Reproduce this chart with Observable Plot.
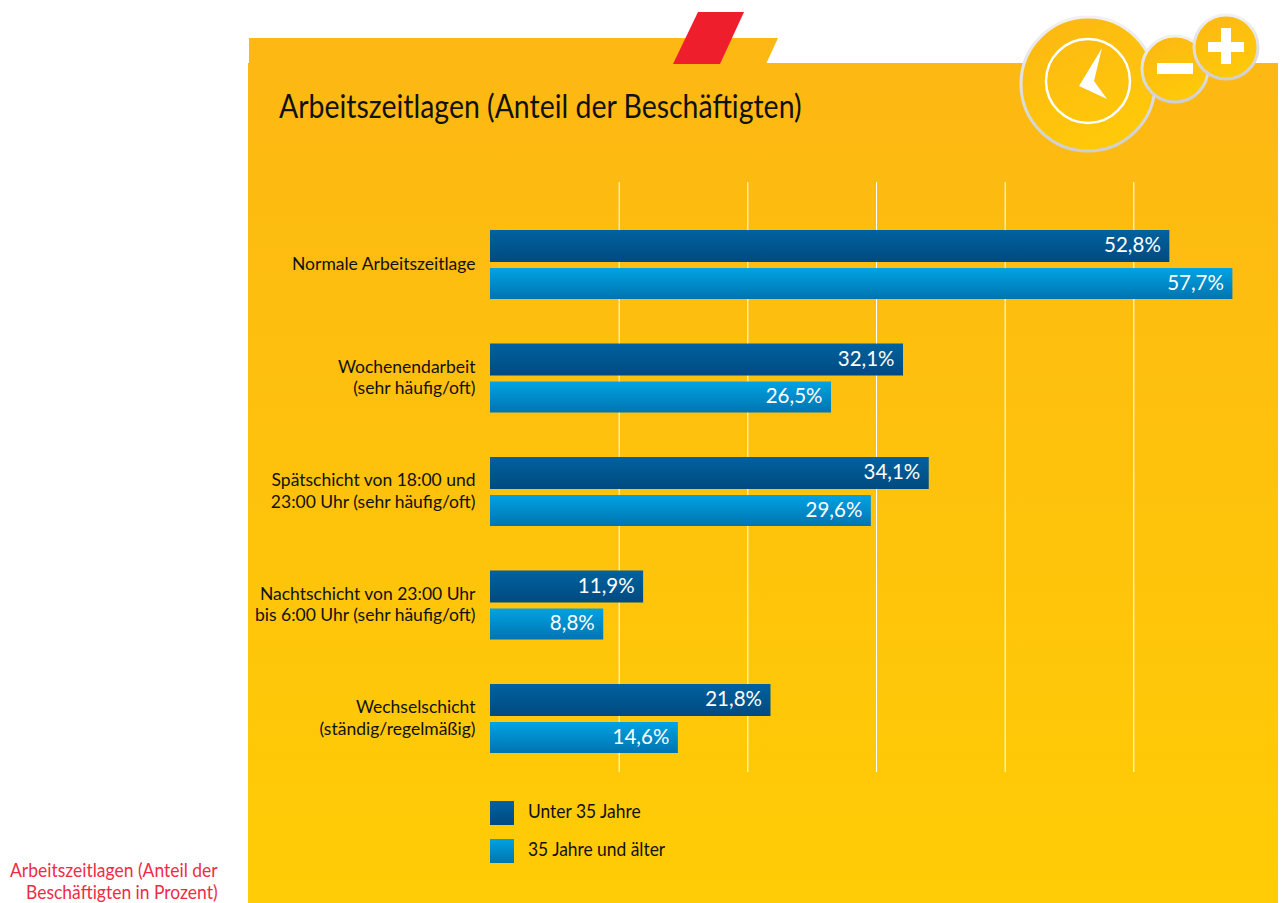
<!DOCTYPE html>
<html lang="de">
<head>
<meta charset="utf-8">
<title>Arbeitszeitlagen</title>
<script src="https://cdn.jsdelivr.net/npm/d3@7"></script>
<script src="https://cdn.jsdelivr.net/npm/@observablehq/plot@0.6"></script>
<style>
  html, body { margin: 0; padding: 0; background: #fff; }
  body { width: 1283px; height: 903px; position: relative; overflow: hidden; font-family: Lato, "Open Sans", sans-serif; color: #111; }
  #chrome, #chart { position: absolute; left: 0; top: 0; }
  .t { position: absolute; white-space: nowrap; }
  #title { left: 279px; top: 86px; font-size: 33px; line-height: 38px; transform: scaleX(.862); transform-origin: left center; }
  #note { right: 1065px; top: 859px; text-align: right; font-size: 19px; line-height: 22px; color: #ee2c45; transform: scaleX(.92); transform-origin: right center; }
  .sw { position: absolute; left: 490px; width: 24px; height: 24px; }
  .lg { left: 528px; font-size: 20px; line-height: 24px; transform: scaleX(.87); transform-origin: left center; }
</style>
</head>
<body>
<svg id="chrome" width="1283" height="903" viewBox="0 0 1283 903">
  <defs>
    <linearGradient id="panel" x1="0" y1="0" x2="0" y2="1"><stop offset="0" stop-color="#fdb813"/><stop offset="1" stop-color="#ffcc05"/></linearGradient>
    <linearGradient id="disc" x1="0.2" y1="0" x2="0.7" y2="1"><stop offset="0" stop-color="#fdb813"/><stop offset="1" stop-color="#ffca08"/></linearGradient>
    <linearGradient id="rim" x1="0" y1="0" x2="0" y2="1"><stop offset="0" stop-color="#f1f1f1"/><stop offset="1" stop-color="#cfcfcf"/></linearGradient>
  </defs>
  <path d="M249 38H778L766 64H249Z" fill="#fdb813"/>
  <rect x="248" y="63" width="1030" height="840" fill="url(#panel)"/>
  <path d="M698 12H744L720 64H673Z" fill="#ef1e2d"/>
  <circle cx="1088" cy="84" r="67" fill="url(#disc)" stroke="url(#rim)" stroke-width="3"/>
  <circle cx="1175" cy="69" r="33" fill="url(#disc)" stroke="url(#rim)" stroke-width="3"/>
  <circle cx="1226" cy="47" r="32" fill="url(#disc)" stroke="url(#rim)" stroke-width="3"/>
  <circle cx="1088" cy="81" r="42" fill="none" stroke="#fff" stroke-width="2.5"/>
  <path d="M1102 48L1094 81L1107 99L1079 86Z" fill="#fff"/>
  <rect x="1157" y="63" width="36" height="11" fill="#fff"/>
  <path d="M1221 28H1231V42H1244V52H1231V64H1221V52H1208V42H1221Z" fill="#fff"/>
</svg>
<div id="chart"></div>
<div class="t" id="title">Arbeitszeitlagen (Anteil der Beschäftigten)</div>
<div class="sw" style="top:801px;background:linear-gradient(#00629f,#004a80)"></div>
<div class="t lg" style="top:798px">Unter 35 Jahre</div>
<div class="sw" style="top:839px;background:linear-gradient(#00a3e3,#0074b0)"></div>
<div class="t lg" style="top:836px">35 Jahre und älter</div>
<div class="t" id="note">Arbeitszeitlagen (Anteil der<br>Beschäftigten in Prozent)</div>
<script>
const categories = [
  "Normale Arbeitszeitlage",
  "Wochenendarbeit\n(sehr häufig/oft)",
  "Spätschicht von 18:00 und\n23:00 Uhr (sehr häufig/oft)",
  "Nachtschicht von 23:00 Uhr\nbis 6:00 Uhr (sehr häufig/oft)",
  "Wechselschicht\n(ständig/regelmäßig)"
];
const under35 = [52.8, 32.1, 34.1, 11.9, 21.8];
const over35 = [57.7, 26.5, 29.6, 8.8, 14.6];
const gridTicks = [10, 20, 30, 40, 50];

const table = values => categories.map((category, i) => ({category, value: values[i]}));
const pct = d => d.value.toFixed(1).replace(".", ",") + "%";
const font = 'Lato, "Open Sans", sans-serif';

const gradients = () => {
  const ns = "http://www.w3.org/2000/svg";
  const defs = document.createElementNS(ns, "defs");
  defs.innerHTML =
    '<linearGradient id="dark" x1="0" y1="0" x2="0" y2="1"><stop offset="0" stop-color="#00629f"/><stop offset="1" stop-color="#004a80"/></linearGradient>' +
    '<linearGradient id="light" x1="0" y1="0" x2="0" y2="1"><stop offset="0" stop-color="#00a3e3"/><stop offset="1" stop-color="#0074b0"/></linearGradient>';
  return defs;
};

const chart = Plot.plot({
  width: 1283,
  height: 903,
  marginLeft: 490,
  marginRight: 21,
  marginTop: 182,
  marginBottom: 131,
  style: {background: "transparent", fontFamily: font},
  x: {domain: [0, 60], range: [490, 1262], axis: null},
  y: {domain: categories, range: [207.75, 775.25], padding: 0, round: false, label: null},
  marks: [
    gradients,
    Plot.gridX(gridTicks, {stroke: "#fff", strokeOpacity: 1, strokeWidth: 1}),
    Plot.barX(table(under35), {x: "value", y: "category", fill: "url(#dark)", insetTop: 22.25, insetBottom: 59.25}),
    Plot.barX(table(over35), {x: "value", y: "category", fill: "url(#light)", insetTop: 60.25, insetBottom: 22.25}),
    Plot.text(table(under35), {x: "value", y: "category", text: pct, fill: "#fff", textAnchor: "end", dx: -9, dy: -19.5, fontSize: 20.5}),
    Plot.text(table(over35), {x: "value", y: "category", text: pct, fill: "#fff", textAnchor: "end", dx: -9, dy: 18, fontSize: 20.5}),
    Plot.axisY({anchor: "left", tickSize: 0, tickPadding: 15, dy: -2, label: null, fontSize: 17.5, lineHeight: 1.23, fill: "#111"})
  ]
});
document.getElementById("chart").append(chart);
</script>
</body>
</html>
